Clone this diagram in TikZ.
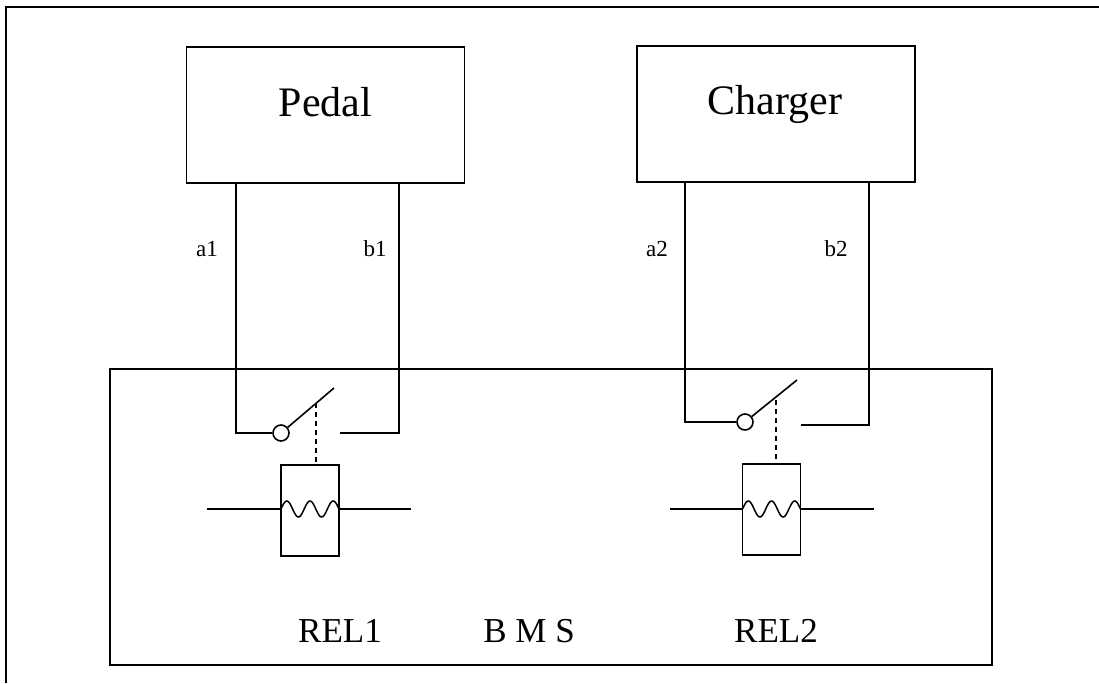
\documentclass[tikz,border=0pt]{standalone}
\usepackage{fontspec}
\setmainfont{Liberation Serif}
\tikzset{
  unit/.style={draw, minimum width=278pt, minimum height=136pt, inner sep=0pt},
  coilbox/.style={draw, minimum width=58pt, minimum height=91pt, inner sep=0pt},
  pivot/.style={draw, circle, minimum size=16pt, inner sep=0pt},
  wirelabel/.style={anchor=base, font=\fontsize{23}{25}\selectfont},
  bigtext/.style={anchor=base, font=\fontsize{42}{46}\selectfont},
  midtext/.style={anchor=base, font=\fontsize{35}{38}\selectfont}
}

\begin{document}
\begin{tikzpicture}[x=1pt, y=-1pt, line width=1.6pt]
  \useasboundingbox (0,0) rectangle (1099,683);
  \draw (6,683) -- (6,7) -- (1099,7);

  % the two units on top
  \node [unit] (pedal) at (325.5,115) {};
  \node [bigtext] (pedaltxt) at (325.5,116) {Pedal};
  \node [unit] (charger) at (776,114) {};
  \node [bigtext] (chargertxt) at (775,114) {Charger};

  % BMS box
  \draw (110,369) rectangle (992,665);
  \node [midtext] (rel1) at (340,642) {REL1};
  \node [midtext] (bms) at (529,642) {B M S};
  \node [midtext] (rel2) at (776,642) {REL2};

  % relay 1
  \coordinate (a1s) at (236,433);
  \coordinate (b1s) at (399,433);
  \coordinate (c1) at (340,433);
  \coordinate (arm1) at (334,388);
  \coordinate (dash1) at (316,403);
  \node [pivot] (sw1) at (281,433) {};
  \node [coilbox] (coil1) at (310,510.5) {};
  \draw (pedal.south -| a1s) -- (a1s) -- (sw1.west);
  \draw (sw1.40) -- (arm1);
  \draw (c1) -- (b1s) -- (pedal.south -| b1s);
  \draw [line width=1.4pt, dash pattern=on 5pt off 4pt] (dash1) -- (coil1.north -| dash1);
  \draw (207,509) -- (coil1.west |- 0,509);
  \draw (coil1.east |- 0,509) -- (411,509);
  \draw [line width=1.5pt] plot [domain=0:58, samples=80, smooth] ({281+\x}, {509-8*sin(\x/58*900)});
  \node [wirelabel] (a1) at (207,256) {a1};
  \node [wirelabel] (b1) at (375,256) {b1};

  % relay 2
  \coordinate (a2s) at (685,422);
  \coordinate (b2s) at (869,425);
  \coordinate (c2) at (801,425);
  \coordinate (arm2) at (797,380);
  \coordinate (dash2) at (776,400);
  \node [pivot] (sw2) at (745,422) {};
  \node [coilbox] (coil2) at (771.5,509.5) {};
  \draw (charger.south -| a2s) -- (a2s) -- (sw2.west);
  \draw (sw2.39) -- (arm2);
  \draw (c2) -- (b2s) -- (charger.south -| b2s);
  \draw [line width=1.4pt, dash pattern=on 5pt off 4pt] (dash2) -- (coil2.north -| dash2);
  \draw (670,509) -- (coil2.west |- 0,509);
  \draw (coil2.east |- 0,509) -- (874,509);
  \draw [line width=1.5pt] plot [domain=0:58, samples=80, smooth] ({742.5+\x}, {509-8*sin(\x/58*900)});
  \node [wirelabel] (a2) at (657,256) {a2};
  \node [wirelabel] (b2) at (836,256) {b2};

\end{tikzpicture}
\end{document}
